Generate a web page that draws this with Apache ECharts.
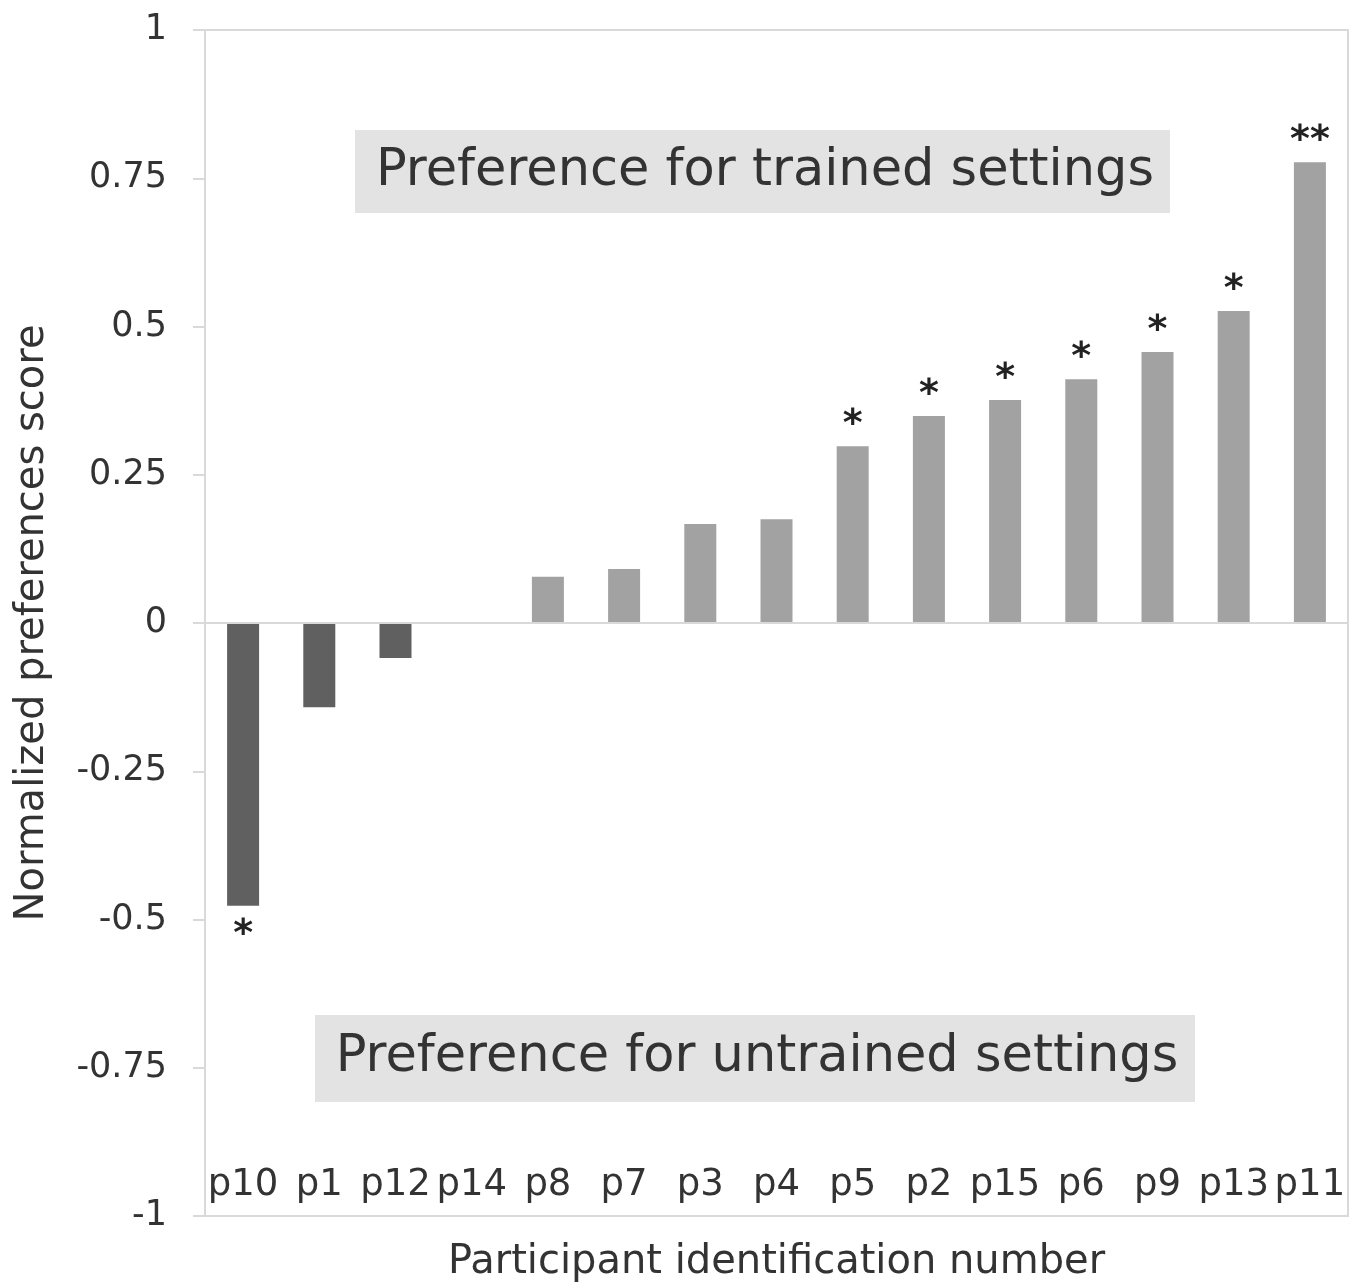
<!DOCTYPE html>
<html>
<head>
<meta charset="utf-8">
<script src="https://cdn.jsdelivr.net/npm/echarts@6/dist/echarts.min.js"></script>
<style>
html,body{margin:0;padding:0;background:#fff;}
#chart{width:1363px;height:1288px;}
</style>
</head>
<body>
<div id="chart"></div>
<script>
const categories = ['p10','p1','p12','p14','p8','p7','p3','p4','p5','p2','p15','p6','p9','p13','p11'];
const scores = [-0.477,-0.142,-0.059,0,0.078,0.091,0.167,0.175,0.298,0.349,0.376,0.411,0.457,0.526,0.777];
const significance = ['*','','','','','','','','*','*','*','*','*','*','**'];
const yTicks = [-1,-0.75,-0.5,-0.25,0,0.25,0.5,0.75,1];
const annotTop = 'Preference for trained settings';
const annotBottom = 'Preference for untrained settings';

const FONT = 'DejaVu Sans';
const TXT = '#333333';
const chart = echarts.init(document.getElementById('chart'), null, {renderer:'canvas'});

const data = scores.map((v,i)=>({
  value: v,
  itemStyle: {color: v < 0 ? '#606060' : '#a2a2a2'},
  label: {
    show: significance[i] !== '',
    position: v < 0 ? 'bottom' : 'top',
    formatter: significance[i],
    distance: v < 0 ? 10 : 2,
    fontSize: 38,
    fontWeight: 'bold',
    fontFamily: FONT,
    color: '#222'
  }
}));

chart.setOption({
  backgroundColor:'#ffffff',
  animation:false,
  grid:{left:205, right:15, top:30, bottom:72, show:true, borderColor:'#d9d9d9', borderWidth:2, containLabel:false},
  xAxis:{
    type:'category',
    data:categories,
    position:'bottom',
    axisLine:{show:false},
    axisTick:{show:false},
    axisLabel:{inside:true, margin:12, fontSize:37, fontFamily:FONT, color:TXT, interval:0},
    name:'Participant identification number',
    nameLocation:'middle',
    nameGap:27,
    nameTextStyle:{fontSize:40, fontFamily:FONT, color:TXT, verticalAlign:'top'}
  },
  yAxis:{
    type:'value',
    min:yTicks[0], max:yTicks[yTicks.length-1], interval:0.25,
    axisLine:{show:false},
    axisTick:{show:true, length:12, lineStyle:{color:'#d9d9d9', width:2}},
    splitLine:{show:false},
    axisLabel:{margin:38, fontSize:35, fontFamily:FONT, color:TXT},
    name:'Normalized preferences score',
    nameLocation:'middle',
    nameGap:152,
    nameTextStyle:{fontSize:40, fontFamily:FONT, color:TXT}
  },
  series:[{
    type:'bar',
    data:data,
    barWidth:'42%',
    markLine:{
      silent:true, symbol:'none', label:{show:false},
      lineStyle:{color:'#d9d9d9', width:2, type:'solid'},
      data:[{yAxis:0}]
    }
  }],
  graphic:[
    {type:'rect', shape:{x:355, y:130, width:815, height:83}, style:{fill:'#e3e3e3'}, z:1},
    {type:'text', x:765, y:172, style:{text:annotTop, fontSize:51, fontFamily:FONT, fill:TXT, align:'center', verticalAlign:'middle'}, z:2},
    {type:'rect', shape:{x:315, y:1015, width:880, height:87}, style:{fill:'#e3e3e3'}, z:1},
    {type:'text', x:757, y:1058, style:{text:annotBottom, fontSize:51, fontFamily:FONT, fill:TXT, align:'center', verticalAlign:'middle'}, z:2}
  ]
});
</script>
</body>
</html>
